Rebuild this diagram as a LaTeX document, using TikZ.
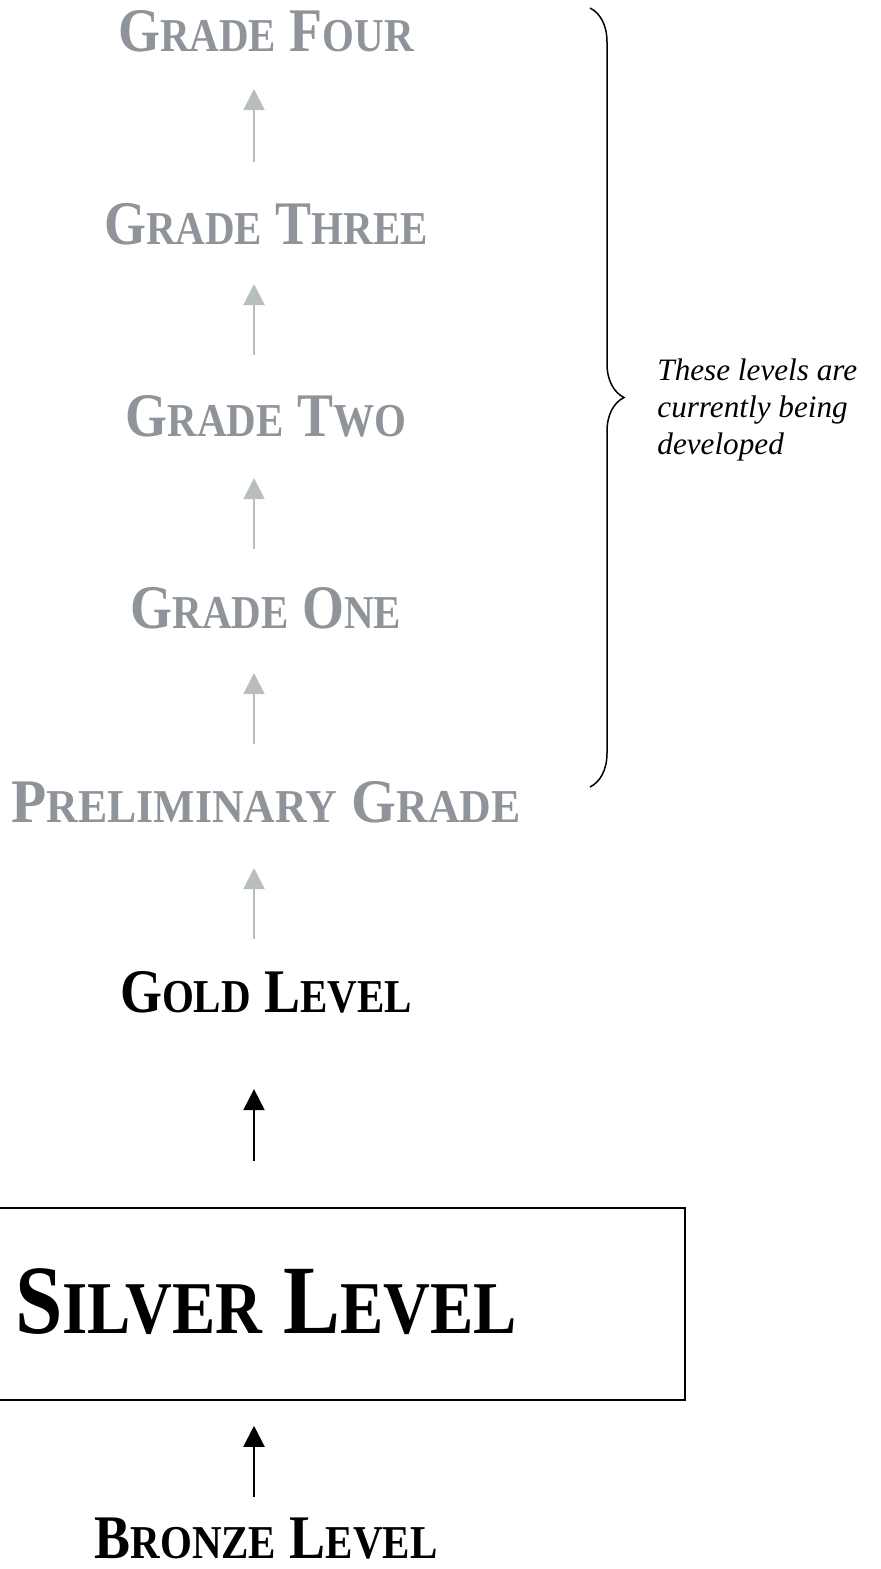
\documentclass[tikz,border=0pt]{standalone}
\usepackage{fontspec}
\setmainfont{Liberation Serif}
\newfontfamily\lvlfont[FakeStretch=0.87]{Liberation Serif}
\newfontfamily\lvlwide[FakeStretch=0.93]{Liberation Serif}
\usetikzlibrary{arrows.meta,decorations.pathreplacing}
\definecolor{gradetext}{HTML}{8E9499}
\definecolor{gradearrow}{HTML}{B8BDC0}
\makeatletter
\newcommand\smc[1]{{\fontsize{\fpeval{0.76*\f@size}}{0}\selectfont#1}}
\makeatother
\tikzset{
	lvl/.style={inner sep=0pt,anchor=base,font=\lvlfont\bfseries\fontsize{31}{31}\selectfont},
	grade/.style={lvl,text=gradetext},
	garr/.style={draw=gradearrow,line width=1pt,-{Triangle[width=10.5pt,length=10.5pt]}},
	barr/.style={draw=black,line width=1pt,-{Triangle[width=10.5pt,length=10.5pt]}}
}
\begin{document}
\begin{tikzpicture}[x=0.5pt,y=-0.5pt]
					\useasboundingbox (0,0) rectangle (881,1569);
					\coordinate (ax) at (254,0);
					% levels
					\node[grade] (g4) at (266,51) {G\smc{RADE} F\smc{OUR}};
					\node[grade] (g3) at (266,244) {G\smc{RADE} T\smc{HREE}};
					\node[grade] (g2) at (266,436) {G\smc{RADE} T\smc{WO}};
					\node[grade] (g1) at (266,628) {G\smc{RADE} O\smc{NE}};
					\node[grade,font=\lvlwide\bfseries\fontsize{31}{31}\selectfont] (pre) at (266,822) {P\smc{RELIMINARY} G\smc{RADE}};
					\node[lvl] (gold) at (266,1012) {G\smc{OLD} L\smc{EVEL}};
					\node[draw,line width=0.75pt,minimum width=352.5pt,minimum height=96pt] (box) at (332.5,1304) {};
					\node[lvl,font=\lvlfont\bfseries\fontsize{49}{49}\selectfont] (silver) at (266,1333) {S\smc{ILVER} L\smc{EVEL}};
					\node[lvl] (bronze) at (266,1558) {B\smc{RONZE} L\smc{EVEL}};
					% arrows
					\draw[garr,shorten <=20.5pt,shorten >=18.5pt] (g3.north -| ax) -- (g4.south -| ax);
					\draw[garr,shorten <=20pt,shorten >=19.5pt] (g2.north -| ax) -- (g3.south -| ax);
					\draw[garr,shorten <=19pt,shorten >=20.5pt] (g1.north -| ax) -- (g2.south -| ax);
					\draw[garr,shorten <=18.5pt,shorten >=22pt] (pre.north -| ax) -- (g1.south -| ax);
					\draw[garr,shorten <=16pt,shorten >=22.5pt] (gold.north -| ax) -- (pre.south -| ax);
					\draw[barr,shorten <=23pt,shorten >=38pt] (box.north -| ax) -- (gold.south -| ax);
					\draw[barr,shorten <=10pt,shorten >=12.5pt] (bronze.north -| ax) -- (box.south -| ax);
					% brace
					\coordinate (bt) at (590,8);
					\coordinate (bb) at (590,787);
					\draw[line width=0.75pt,decorate,decoration={brace,amplitude=17pt}] (bt) -- (bb);
					\node[anchor=west,align=left,inner sep=0pt,font=\itshape\fontsize{15.6}{18.5}\selectfont] (note) at (657,410) {These levels are\\currently being\\developed};
				\end{tikzpicture}
\end{document}
